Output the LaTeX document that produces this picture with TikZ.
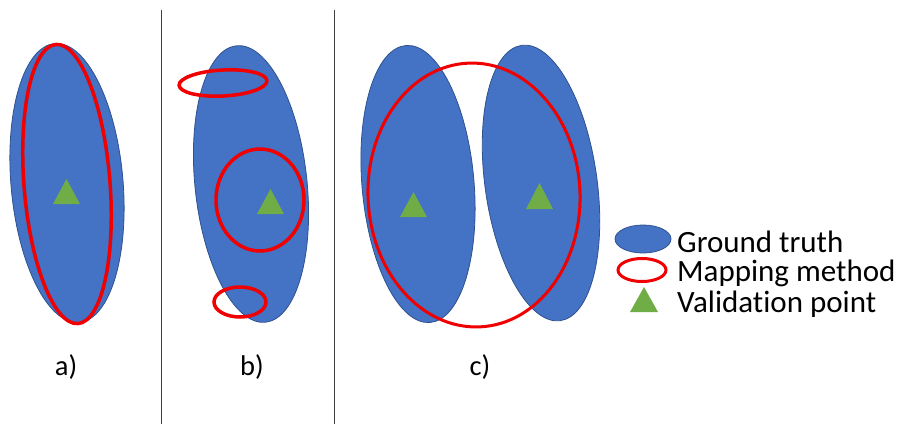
\documentclass[tikz,border=0pt]{standalone}
\usepackage{fontspec}
\setmainfont{Carlito}[Ligatures=NoCommon]
\definecolor{gtblue}{HTML}{4472C4}
\definecolor{gtedge}{HTML}{2F528F}
\definecolor{mapred}{HTML}{F00000}
\definecolor{valgreen}{HTML}{70AD47}
\begin{document}
\begin{tikzpicture}[x=1pt,y=-1pt,
  gt/.style={fill=gtblue,draw=gtedge,line width=0.8pt},
  mm/.style={draw=mapred,line width=3.5pt},
  vp/.style={fill=valgreen},
  divider/.style={draw=black!75,line width=1pt},
  lbl/.style={font=\fontsize{28.5}{30}\selectfont,anchor=base,inner sep=0pt},
  leg/.style={font=\fontsize{31}{33}\selectfont,anchor=base west,inner sep=0pt}]
\useasboundingbox (0,0) rectangle (901,424);
% dividers
\coordinate (d1t) at (161,10); \coordinate (d1b) at (161,424);
\coordinate (d2t) at (334,10); \coordinate (d2b) at (334,424);
\draw[divider] (d1t) -- (d1b);
\draw[divider] (d2t) -- (d2b);
% panel a
\draw[gt, rotate around={5:(67,183)}] (67,183) ellipse [x radius=56, y radius=140];
\draw[mm, rotate around={4.5:(67,184)}] (67,184) ellipse [x radius=43, y radius=140];
\fill[vp] (53,204) -- (80,204) -- (66.5,179) -- cycle;
% panel b
\draw[gt, rotate around={6:(251,184)}] (251,184) ellipse [x radius=56, y radius=139];
\draw[mm, rotate around={3:(223,83)}] (223,83) ellipse [x radius=44, y radius=13];
\draw[mm] (260,200) ellipse [x radius=44, y radius=51];
\draw[mm] (240,302) ellipse [x radius=26, y radius=15];
\fill[vp] (257,214) -- (284,214) -- (270.5,189) -- cycle;
% panel c
\draw[gt, rotate around={5:(418,184)}] (418,184) ellipse [x radius=56, y radius=139];
\draw[gt, rotate around={8:(541,183)}] (541,183) ellipse [x radius=56, y radius=139];
\draw[mm, line width=3pt, rotate around={2.5:(474,195)}] (474,195) ellipse [x radius=106, y radius=132];
\fill[vp] (400,217) -- (427,217) -- (413.5,192) -- cycle;
\fill[vp] (526,209) -- (553,209) -- (539.5,183) -- cycle;
% labels
\node[lbl] (la) at (66,375) {a)};
\node[lbl] (lb) at (252,375) {b)};
\node[lbl] (lc) at (480,375) {c)};
% legend
\draw[gt] (643,239) ellipse [x radius=28, y radius=14];
\draw[mm, line width=3pt] (642,270) ellipse [x radius=24, y radius=11.5];
\fill[vp] (630,312) -- (658,312) -- (644,287) -- cycle;
\node[leg] (l1) at (677,252) {Ground truth};
\node[leg] (l2) at (677,281) {Mapping method};
\node[leg] (l3) at (677,312) {Validation point};
\end{tikzpicture}
\end{document}
